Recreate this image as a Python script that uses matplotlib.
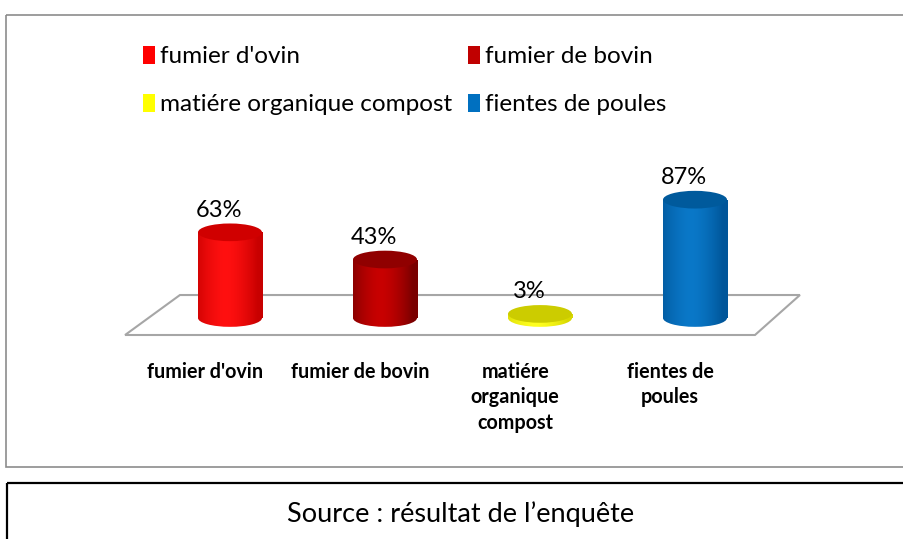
import matplotlib.pyplot as plt
import numpy as np
from matplotlib.patches import Rectangle, Ellipse, Polygon, Patch

plt.rcParams['font.family'] = ['Lato', 'DejaVu Sans']

categories = ["fumier d'ovin", "fumier de bovin", "matiére organique compost", "fientes de poules"]
tick_labels = ["fumier d'ovin", "fumier de bovin", "matiére\norganique\ncompost", "fientes de\npoules"]
values = [63, 43, 3, 87]
value_labels = ["63%", "43%", "3%", "87%"]

# (edge, middle, top) colours for each cylinder
side_edge = ['#c80000', '#7a0000', '#d8d800', '#00569a']
side_mid = ['#ff1010', '#c80000', '#ffff20', '#0a78c8']
top_col = ['#d00000', '#900000', '#cccc00', '#005a9c']
legend_cols = ['#ff0000', '#c00000', '#ffff00', '#0070c0']

W, H = 904, 539
fig = plt.figure(figsize=(W / 100, H / 100), dpi=100)

# outer frames (figure pixel coordinates)
frame = fig.add_axes([0, 0, 1, 1])
frame.set_xlim(0, W)
frame.set_ylim(H, 0)
frame.axis('off')
frame.add_patch(Rectangle((6, 15), 920, 452, fill=False, edgecolor='#8c8c8c', lw=1.2))
frame.add_patch(Rectangle((7, 483), 920, 80, fill=False, edgecolor='black', lw=1.6))
frame.text(461, 514, "Source : résultat de l’enquête", ha='center', va='center', fontsize=19.5)

# chart axes: x = category index, y = percent
x0, x1 = -1.2, 3.8
y0, y1 = -20, 110
ax = fig.add_axes([44 / W, (H - 345.2) / H, 775 / W, 176.8 / H])
ax.set_xlim(x0, x1)
ax.set_ylim(y0, y1)
ax.axis('off')

# floor
floor = Polygon([(-0.677, -12.5), (3.387, -12.5), (3.677, 16.9), (-0.323, 16.9)],
                closed=True, facecolor='white', edgecolor='#a6a6a6', lw=1.5, zorder=1)
floor.set_clip_on(False)
ax.add_patch(floor)

w = 0.413
eh = 13.0
for i, v in enumerate(values):
    ce = np.array(plt.matplotlib.colors.to_rgb(side_edge[i]))
    cm = np.array(plt.matplotlib.colors.to_rgb(side_mid[i]))
    t = np.linspace(-1, 1, 200)
    k = np.clip(1 - np.abs(t + 0.15) ** 1.6, 0, 1)
    grad = ce[None, :] * (1 - k[:, None]) + cm[None, :] * k[:, None]
    img = grad[None, :, :]
    body = Rectangle((i - w / 2, 0), w, v, facecolor='none', edgecolor='none', zorder=3)
    base = Ellipse((i, 0), w, eh, facecolor='none', edgecolor='none', zorder=3)
    ax.add_patch(body)
    ax.add_patch(base)
    for clip in (body, base):
        im = ax.imshow(img, extent=(i - w / 2, i + w / 2, -eh, v), aspect='auto',
                       origin='lower', zorder=3, interpolation='bilinear')
        im.set_clip_path(clip)
    ax.add_patch(Ellipse((i, v), w, eh, facecolor=top_col[i], edgecolor='none', zorder=4))
    ax.annotate(value_labels[i], (i - 0.07, v + eh / 2), xytext=(0, 2),
                textcoords='offset points', ha='center', va='bottom', fontsize=17, zorder=5)
    ax.text(i - 0.16, -32, tick_labels[i], ha='center', va='top', fontsize=14.2,
            fontweight='bold', linespacing=1.35, clip_on=False)

ax.set_xlim(x0, x1)
ax.set_ylim(y0, y1)

handles = [Patch(facecolor=c, edgecolor='none') for c in legend_cols]
order = [0, 2, 1, 3]
fig.legend([handles[j] for j in order], [categories[j] for j in order], ncol=2,
           loc='upper left', bbox_to_anchor=(143 / W, 1 - 46 / H), frameon=False,
           fontsize=17.5, handlelength=0.5, handleheight=0.75, handletextpad=0.2,
           columnspacing=0.65, labelspacing=1.1, borderaxespad=0, borderpad=0)

fig.savefig('out.png', dpi=100)
